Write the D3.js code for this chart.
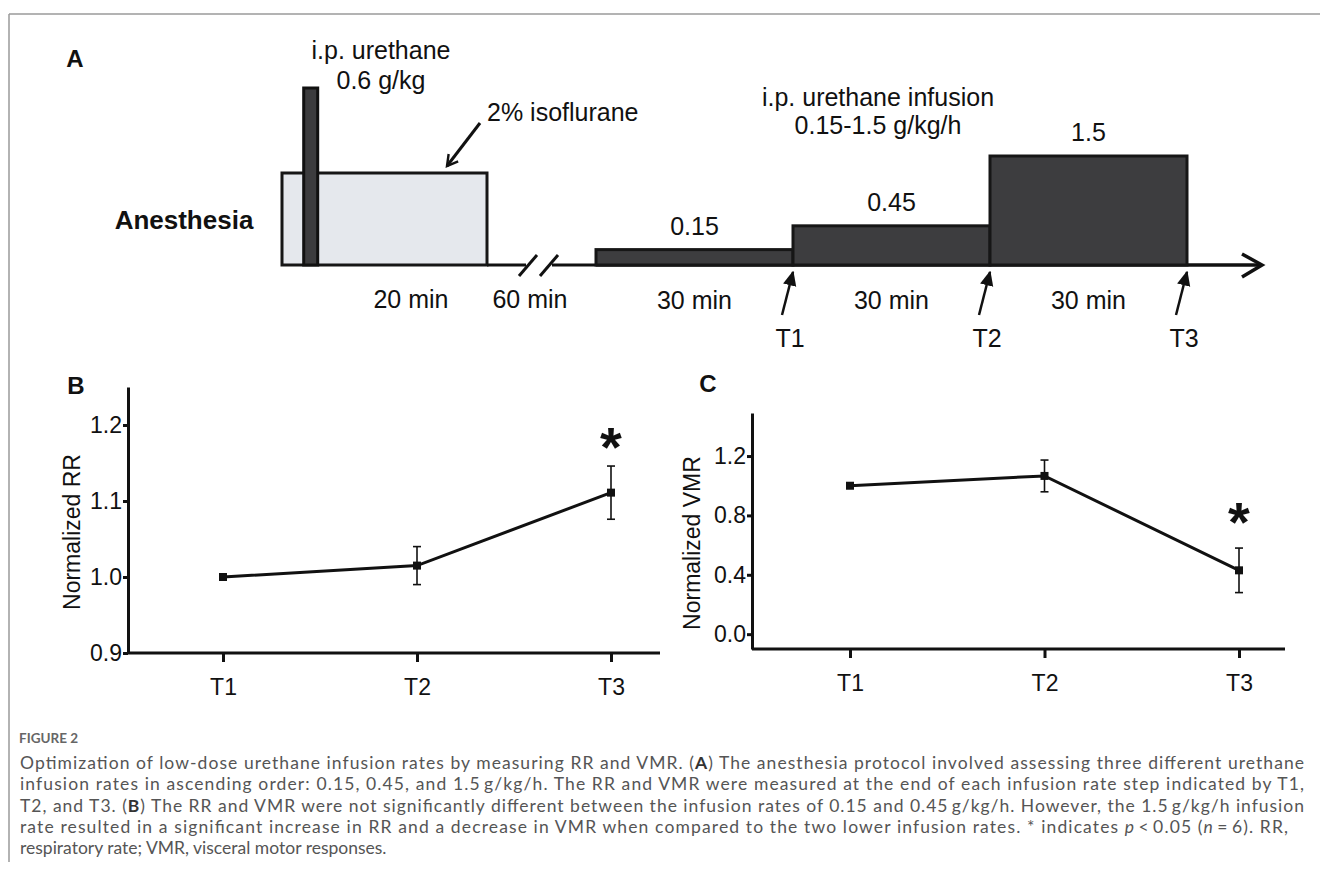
<!DOCTYPE html>
<html>
<head>
<meta charset="utf-8">
<script src="https://cdn.jsdelivr.net/npm/d3@7"></script>
<style>
  html, body { margin: 0; padding: 0; background: #fff; }
  svg { display: block; }
</style>
</head>
<body>
<div id="fig"></div>
<script>
// panel A protocol
const isoMinutes = 20;
const bolusMinute = 2.8;
const infusionRates = [0.15, 0.45, 1.5];
const stepMinutes = [30, 30, 30];
const stepLabels = ["T1", "T2", "T3"];

// panels B and C
const timepoints = ["T1", "T2", "T3"];
const rrMean = [1.0, 1.015, 1.111];
const rrErr = [0, 0.025, 0.035];
const rrTicks = [0.9, 1.0, 1.1, 1.2];
const vmrMean = [1.0, 1.066, 0.43];
const vmrErr = [0, 0.107, 0.15];
const vmrTicks = [0.0, 0.4, 0.8, 1.2];

const W = 1320, H = 875;
const FONT = "'Liberation Sans', Arial, sans-serif";

const svg = d3.select("#fig").append("svg")
    .attr("width", W)
    .attr("height", H);

// frame lines
svg.append("line").attr("x1", 9).attr("x2", W).attr("y1", 14).attr("y2", 14)
    .style("stroke", "#9a9a9a").style("stroke-width", 1.5);
svg.append("line").attr("x1", 9).attr("x2", 9).attr("y1", 14).attr("y2", 862)
    .style("stroke", "#9a9a9a").style("stroke-width", 1.5);

function label(x, y, txt, size, weight) {
    return svg.append("text")
        .attr("x", x).attr("y", y)
        .attr("text-anchor", "middle")
        .attr("dominant-baseline", "central")
        .style("font-family", FONT)
        .style("font-size", size + "px")
        .style("font-weight", weight || "normal")
        .style("fill", "#111")
        .text(txt);
}

// ---------- Panel A ----------
const base = 265;
const xIso = d3.scaleLinear().domain([0, isoMinutes]).range([282, 487]);
const xInf = d3.scaleLinear().domain([0, d3.sum(stepMinutes)]).range([596, 1187]);
const yRate = d3.scalePow().exponent(0.85).domain([0, 1.5]).range([base, 156]);

label(75, 58, "A", 24, "bold");
label(184, 220, "Anesthesia", 26, "bold");

// isoflurane block
svg.append("rect")
    .attr("x", xIso(0)).attr("y", 173)
    .attr("width", xIso(isoMinutes) - xIso(0)).attr("height", base - 173)
    .style("fill", "#e5e8ed").style("stroke", "#161616").style("stroke-width", 3);

// urethane bolus
svg.append("rect")
    .attr("x", xIso(bolusMinute) - 7).attr("y", 88)
    .attr("width", 14).attr("height", base - 88)
    .style("fill", "#3c3c3e").style("stroke", "#111").style("stroke-width", 3);

label(381, 50, "i.p. urethane", 25);
label(381, 80, "0.6 g/kg", 25);
svg.append("text").attr("x", 487).attr("y", 112)
    .attr("dominant-baseline", "central")
    .style("font-family", FONT).style("font-size", "25px").style("fill", "#111")
    .text("2% isoflurane");

// arrow heads
const defs = svg.append("defs");
defs.append("marker")
    .attr("id", "openhead").attr("viewBox", "0 0 10 10")
    .attr("refX", 8).attr("refY", 5)
    .attr("markerWidth", 5).attr("markerHeight", 5)
    .attr("orient", "auto")
    .append("path").attr("d", "M1,1 L8,5 L1,9")
    .style("fill", "none").style("stroke", "#111").style("stroke-width", 1.6);
defs.append("marker")
    .attr("id", "fillhead").attr("viewBox", "0 0 10 10")
    .attr("refX", 9).attr("refY", 5)
    .attr("markerWidth", 6).attr("markerHeight", 6)
    .attr("orient", "auto")
    .append("path").attr("d", "M0,0.5 L10,5 L0,9.5 Z")
    .style("fill", "#111");

svg.append("line").attr("x1", 480).attr("y1", 123).attr("x2", 447).attr("y2", 166)
    .style("stroke", "#111").style("stroke-width", 3)
    .attr("marker-end", "url(#openhead)");

// time axis with break
svg.append("line").attr("x1", xIso(isoMinutes)).attr("x2", 526).attr("y1", base).attr("y2", base)
    .style("stroke", "#111").style("stroke-width", 3);
svg.append("line").attr("x1", 552).attr("x2", xInf(0)).attr("y1", base).attr("y2", base)
    .style("stroke", "#111").style("stroke-width", 3);
[519, 540].forEach(x => {
    svg.append("line").attr("x1", x).attr("y1", 276).attr("x2", x + 18).attr("y2", 255)
        .style("stroke", "#111").style("stroke-width", 3);
});
svg.append("line").attr("x1", xInf(0)).attr("x2", 1260).attr("y1", base).attr("y2", base)
    .style("stroke", "#111").style("stroke-width", 3.5);
svg.append("path").attr("d", `M1242,254 L1262,${base} L1242,277`)
    .style("fill", "none").style("stroke", "#111").style("stroke-width", 3.5);

// infusion steps
const cumStart = stepMinutes.map((m, i) => d3.sum(stepMinutes.slice(0, i)));
const steps = infusionRates.map((r, i) => ({
    rate: r, start: cumStart[i], end: cumStart[i] + stepMinutes[i], label: stepLabels[i]
}));

svg.append("g").selectAll("rect")
    .data(steps)
    .enter().append("rect")
    .attr("x", d => xInf(d.start))
    .attr("y", d => yRate(d.rate))
    .attr("width", d => xInf(d.end) - xInf(d.start))
    .attr("height", d => base - yRate(d.rate))
    .style("fill", "#3d3d3f").style("stroke", "#161616").style("stroke-width", 3);

steps.forEach(d => {
    const cx = (xInf(d.start) + xInf(d.end)) / 2;
    label(cx, yRate(d.rate) - 24, d.rate, 25);
    label(cx, 300, d.end - d.start + " min", 25);
    const xe = xInf(d.end);
    svg.append("line").attr("x1", xe - 11).attr("y1", 315).attr("x2", xe).attr("y2", 272)
        .style("stroke", "#111").style("stroke-width", 2.5)
        .attr("marker-end", "url(#fillhead)");
    label(xe - 3, 338, d.label, 25);
});

label(411, 299, isoMinutes + " min", 25);
label(530, 299, "60 min", 25);
label(878, 97, "i.p. urethane infusion", 25);
label(878, 125, "0.15-1.5 g/kg/h", 25);

// ---------- Panels B and C ----------
function panel(opt) {
    const g = svg.append("g");
    const x = d3.scalePoint().domain(timepoints).range(opt.xRange);
    const y = d3.scaleLinear().domain(opt.yDomain).range(opt.yRange);

    const yAxis = g.append("g")
        .attr("transform", `translate(${opt.axisX},0)`)
        .call(d3.axisLeft(y).tickValues(opt.ticks).tickSize(5).tickSizeOuter(0)
            .tickPadding(1).tickFormat(d3.format(".1f")));
    const xAxis = g.append("g")
        .attr("transform", `translate(0,${opt.yRange[0]})`)
        .call(d3.axisBottom(x).tickSize(9).tickPadding(17).tickSizeOuter(0));
    xAxis.select(".domain").remove();
    g.append("line")
        .attr("x1", opt.axisX).attr("x2", opt.axisEnd)
        .attr("y1", opt.yRange[0]).attr("y2", opt.yRange[0])
        .style("stroke", "#111").style("stroke-width", 3);

    [yAxis, xAxis].forEach(a => {
        a.selectAll("path,line").style("stroke", "#111").style("stroke-width", 3);
        a.selectAll("text").style("font-family", FONT).style("font-size", "23px").style("fill", "#111");
    });

    const ly = (opt.yRange[0] + opt.yRange[1]) / 2 + 12;
    label(opt.labelX, ly, opt.yLabel, 23)
        .attr("transform", `rotate(-90,${opt.labelX},${ly})`);
    label(opt.letterX, opt.letterY, opt.letter, 24, "bold");

    const pts = timepoints.map((t, i) => ({ t: t, m: opt.mean[i], e: opt.err[i] }));

    g.append("g").selectAll("line")
        .data(pts.filter(d => d.e > 0))
        .enter().append("line")
        .attr("x1", d => x(d.t)).attr("x2", d => x(d.t))
        .attr("y1", d => y(d.m - d.e)).attr("y2", d => y(d.m + d.e))
        .style("stroke", "#111").style("stroke-width", 1.6);
    [-1, 1].forEach(s => {
        g.append("g").selectAll("line")
            .data(pts.filter(d => d.e > 0))
            .enter().append("line")
            .attr("x1", d => x(d.t) - 4).attr("x2", d => x(d.t) + 4)
            .attr("y1", d => y(d.m + s * d.e)).attr("y2", d => y(d.m + s * d.e))
            .style("stroke", "#111").style("stroke-width", 1.6);
    });

    g.append("path")
        .datum(pts)
        .attr("d", d3.line().x(d => x(d.t)).y(d => y(d.m)))
        .style("fill", "none").style("stroke", "#111").style("stroke-width", 3);

    g.append("g").selectAll("rect")
        .data(pts)
        .enter().append("rect")
        .attr("x", d => x(d.t) - 4).attr("y", d => y(d.m) - 4)
        .attr("width", 8).attr("height", 8)
        .style("fill", "#111");

    const sig = pts[opt.sigIndex];
    svg.append("text")
        .attr("x", x(sig.t)).attr("y", y(sig.m + sig.e) - opt.sigGap)
        .attr("text-anchor", "middle")
        .style("font-family", FONT).style("font-size", "56px").style("font-weight", "bold")
        .style("fill", "#111")
        .text("*");
}

panel({
    xRange: [223, 611], axisX: 128, axisEnd: 660,
    yDomain: [0.9, 1.25], yRange: [653, 387], ticks: rrTicks,
    mean: rrMean, err: rrErr, yLabel: "Normalized RR", labelX: 72,
    letter: "B", letterX: 76, letterY: 385, sigIndex: 2, sigGap: 0
});
panel({
    xRange: [850, 1239], axisX: 752, axisEnd: 1285,
    yDomain: [-0.1, 1.49], yRange: [649, 413], ticks: vmrTicks,
    mean: vmrMean, err: vmrErr, yLabel: "Normalized VMR", labelX: 692,
    letter: "C", letterX: 708, letterY: 383, sigIndex: 2, sigGap: 7
});

// ---------- Caption ----------
const CAP = "Lato, 'Open Sans', sans-serif";
svg.append("text").attr("x", 19).attr("y", 743)
    .style("font-family", CAP).style("font-size", "13.5px").style("font-weight", "bold")
    .style("fill", "#666").text("FIGURE 2");

const captionLines = [
    [["Optimization of low-dose urethane infusion rates by measuring RR and VMR. ("], ["A", "b"], [") The anesthesia protocol involved assessing three different urethane"]],
    [["infusion rates in ascending order: 0.15, 0.45, and 1.5\u2009g/kg/h. The RR and VMR were measured at the end of each infusion rate step indicated by T1,"]],
    [["T2, and T3. ("], ["B", "b"], [") The RR and VMR were not significantly different between the infusion rates of 0.15 and 0.45\u2009g/kg/h. However, the 1.5\u2009g/kg/h infusion"]],
    [["rate resulted in a significant increase in RR and a decrease in VMR when compared to the two lower infusion rates. * indicates "], ["p", "i"], ["\u2009<\u20090.05 ("], ["n", "i"], ["\u2009=\u20096). RR,"]],
    [["respiratory rate; VMR, visceral motor responses."]]
];
const captionWidths = [1284, 1284, 1284, 1268, null];

captionLines.forEach((parts, i) => {
    const t = svg.append("text")
        .attr("x", 20).attr("y", 769 + i * 21.3)
        .style("font-family", CAP).style("font-size", "17.5px").style("fill", "#555");
    if (captionWidths[i]) t.attr("textLength", captionWidths[i]).attr("lengthAdjust", "spacing");
    parts.forEach(p => {
        const ts = t.append("tspan").text(p[0]);
        if (p[1] === "b") ts.style("font-weight", "bold").style("fill", "#333");
        if (p[1] === "i") ts.style("font-style", "italic");
    });
});
</script>
</body>
</html>
